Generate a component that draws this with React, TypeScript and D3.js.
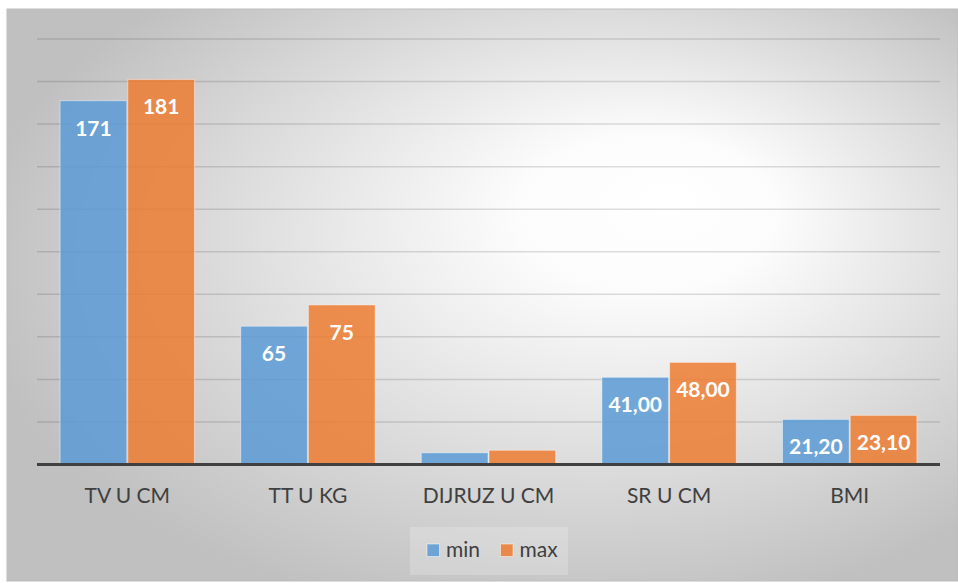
import React from 'react';
import * as d3 from 'd3';

const categories = ['TV U CM', 'TT U KG', 'DIJRUZ U CM', 'SR U CM', 'BMI'];
const seriesNames = ['min', 'max'];
const minValues = [171, 65, 5.5, 41, 21.2];
const maxValues = [181, 75, 6.7, 48, 23.1];
// labels as printed on the bars (null = no label)
const minLabels = ['171', '65', null, '41,00', '21,20'];
const maxLabels = ['181', '75', null, '48,00', '23,10'];
const yTicks = d3.range(0, 201, 20);

const colors = ['#5B9BD5', '#ED7D31'];
const font = 'Lato, "Open Sans", sans-serif';

const W = 958;
const H = 583;
const plot = { left: 37, right: 940, top: 39, bottom: 464.5 };

const App: React.FC = () => {
  const x = d3.scaleBand<string>()
    .domain(categories)
    .range([plot.left, plot.right])
    .paddingInner(0.25)
    .paddingOuter(0.125);

  const xs = d3.scaleBand<string>()
    .domain(seriesNames)
    .range([0, x.bandwidth()])
    .padding(0);

  const y = d3.scaleLinear().domain([0, 200]).range([plot.bottom, plot.top]);

  const series = [
    { name: 'min', values: minValues, labels: minLabels, color: colors[0] },
    { name: 'max', values: maxValues, labels: maxLabels, color: colors[1] },
  ];

  return (
    <svg width={W} height={H} style={{ position: 'absolute', left: 0, top: 0 }}>
      <defs>
        <radialGradient id="bg" cx="0.58" cy="0.45" r="0.62" fx="0.7" fy="0.33">
          <stop offset="0" stopColor="#ffffff" />
          <stop offset="0.22" stopColor="#fcfcfc" />
          <stop offset="1" stopColor="#c0c0c0" />
        </radialGradient>
      </defs>
      <rect x={0} y={0} width={W} height={H} fill="#ffffff" />
      <rect x={7} y={9} width={W - 7} height={572} fill="url(#bg)" stroke="#bdbdbd" strokeWidth={1} />

      {/* gridlines */}
      {yTicks.filter(t => t > 0).map(t => (
        <line key={t} x1={plot.left} x2={plot.right} y1={y(t)} y2={y(t)}
          stroke="#000" strokeOpacity={0.13} strokeWidth={1.5} />
      ))}

      {/* bars */}
      {series.map(s => (
        <g key={s.name}>
          {categories.map((c, i) => {
            const bx = (x(c) || 0) + (xs(s.name) || 0);
            const by = y(s.values[i]);
            return (
              <g key={c}>
                <rect x={bx + 0.5} y={by} width={xs.bandwidth() - 1} height={y(0) - by}
                  fill={s.color} fillOpacity={0.85} stroke="#fff" strokeOpacity={0.45} strokeWidth={1} />
                {s.labels[i] && (
                  <text x={bx + xs.bandwidth() / 2} y={by + 35} textAnchor="middle"
                    fill="#fff" fontFamily={font} fontWeight={700} fontSize={21}>
                    {s.labels[i]}
                  </text>
                )}
              </g>
            );
          })}
        </g>
      ))}

      {/* baseline */}
      <line x1={plot.left} x2={plot.right} y1={y(0)} y2={y(0)} stroke="#404040" strokeWidth={3} />

      {/* category labels */}
      {categories.map(c => (
        <text key={c} x={(x(c) || 0) + x.bandwidth() / 2} y={503} textAnchor="middle"
          fill="#404040" fontFamily={font} fontSize={21}>
          {c}
        </text>
      ))}

      {/* legend */}
      <rect x={410} y={527} width={158} height={48} fill="#ffffff" fillOpacity={0.2} />
      {series.map((s, i) => {
        const lx = 427 + i * 73.5;
        return (
          <g key={s.name}>
            <rect x={lx} y={544} width={12.5} height={12.5} fill={s.color} fillOpacity={0.85}
              stroke="#fff" strokeOpacity={0.5} strokeWidth={1} />
            <text x={lx + 19} y={556.5} fill="#404040" fontFamily={font} fontSize={21}>{s.name}</text>
          </g>
        );
      })}
    </svg>
  );
};

export default App;
